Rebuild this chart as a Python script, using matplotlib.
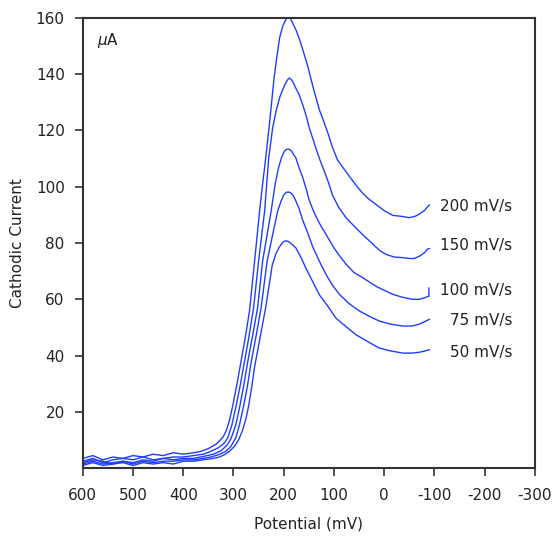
import matplotlib
matplotlib.use("Agg")
import matplotlib.pyplot as plt

plt.rcParams['font.family'] = ['DejaVu Sans']

# potential (mV) and cathodic current (uA)
pot_200 = [600, 580, 560, 540, 520, 500, 480, 460, 440, 420, 400, 380, 365, 350, 335, 321, 314, 308, 301,
           293, 285, 276, 268, 258, 248, 242, 236, 228, 219, 213, 208, 202, 197, 193, 190, 186, 182,
           175, 168, 162, 152, 142, 129, 120, 112, 103, 93, 81, 69, 56, 43, 30, 15, 0, -17, -33, -50,
           -62, -72, -80, -86, -90]
cur_200 = [3.5, 4.5, 3.0, 4.0, 3.5, 4.5, 4.0, 5.0, 4.5, 5.5, 5.0, 5.5, 6.0, 7.0, 8.5, 11, 13.5, 17, 22.6,
           30, 38, 47, 56, 73.6, 91.4, 101, 110, 123, 139, 147, 153, 157, 159, 160, 160, 159.5, 158,
           155.4, 152, 148.6, 142.7, 135.6, 127.3, 123, 119, 114, 109.5, 106.5, 103.6, 100.5, 97.7, 95.5,
           93.5, 91.5, 89.8, 89.5, 89, 89.5, 90.5, 91.5, 92.8, 93.5]

pot_150 = [600, 580, 560, 540, 520, 500, 480, 460, 440, 420, 400, 380, 360, 345, 330, 318, 311, 303, 295,
           286, 278, 269, 260, 250, 238, 230, 222, 215, 208, 202, 197, 193, 189, 185, 181, 176, 170, 162,
           155, 149, 142, 136, 128, 119, 110, 103, 90, 76, 60, 43, 25, 10, -3, -20, -37, -50, -60, -72,
           -80, -86, -90]
cur_150 = [2.5, 3.5, 2.0, 3.0, 3.5, 3.0, 4.0, 3.0, 3.5, 4.0, 4.0, 4.5, 5.0, 6.0, 7.3, 9.0, 11, 15.5, 22,
           30, 38, 47, 57, 73.6, 91.4, 110, 121, 127, 131.7, 134.5, 136.5, 137.8, 138.6, 138, 137, 135,
           133, 129, 125, 120.8, 117, 113.7, 109.5, 105.4, 101, 97, 92.5, 89, 86, 83, 80, 77.5, 76, 75,
           74.8, 74.5, 74.5, 75.5, 76.5, 77.8, 78]

pot_100 = [600, 580, 560, 540, 520, 500, 480, 460, 440, 420, 400, 380, 360, 340, 325, 313, 305, 296, 288,
           280, 272, 262, 252, 242, 233, 225, 217, 210, 204, 199, 194, 189, 184, 180, 176, 170, 162, 155,
           149, 140, 129, 119, 109, 99, 89, 76, 60, 43, 30, 15, 0, -17, -35, -56, -70, -80, -86, -89, -89]
cur_100 = [2.0, 3.0, 2.5, 1.5, 2.5, 2.0, 3.0, 2.5, 3.5, 3.0, 3.5, 3.5, 4.2, 5.0, 6.2, 8.2, 10.5, 15, 21.5,
           29, 37.5, 47, 57, 73.6, 83, 91.4, 101, 107, 110.5, 112.5, 113.3, 113.3, 112.5, 111.3, 110.3,
           107, 103.2, 99, 95, 91, 87, 84, 81, 78, 75.5, 72.5, 69.5, 67.7, 66.2, 64.5, 63.2, 61.8, 60.8,
           60, 60, 60.5, 61, 61, 64]

pot_75 = [600, 580, 560, 540, 520, 500, 480, 460, 440, 420, 400, 380, 360, 345, 330, 315, 305, 295,
          288, 280, 272, 265, 255, 245, 233, 222, 212, 205, 200, 195, 190, 186, 181, 176, 170, 162, 152,
          142, 129, 116, 103, 89, 70, 49, 30, 10, -12, -37, -55, -70, -80, -90]
cur_75 = [1.5, 2.5, 1.5, 2.0, 2.5, 1.5, 2.5, 2.0, 2.5, 2.5, 3.0, 3.0, 3.5, 4.0, 4.8, 6.0, 7.8, 11,
          15.5, 22, 29.5, 37.5, 47, 57, 73.6, 83, 91.4, 95, 97, 98, 98.1, 97.8, 96.8, 95, 92.5, 88, 83.5,
          78.5, 73.5, 68.9, 65, 61.7, 58.5, 55.8, 54, 52.3, 51.2, 50.5, 50.5, 51.2, 52, 52.9]

pot_50 = [600, 580, 560, 540, 520, 500, 480, 460, 440, 420, 400, 380, 360, 340, 328, 318, 308, 298,
          290, 283, 276, 270, 264, 258, 247, 236, 229, 223, 216, 209, 203, 198, 193, 188, 182, 176, 166,
          156, 143, 129, 112, 96, 76, 56, 33, 10, -12, -37, -55, -70, -80, -90]
cur_50 = [1.0, 2.0, 1.0, 1.5, 2.0, 1.0, 2.0, 1.5, 2.0, 1.5, 2.5, 2.5, 3.0, 3.5, 4.0, 4.8, 6.0, 7.8,
          10, 13, 17, 22, 28.5, 36, 46.5, 57, 65, 72, 76, 78.5, 80, 80.7, 80.7, 80.2, 79.3, 78.3, 75,
          71.1, 66.5, 61.6, 57.5, 53.3, 50.3, 47.4, 45, 42.7, 41.7, 40.9, 40.9, 41.2, 41.6, 42.1]

rate_labels = ['200 mV/s', '150 mV/s', '100 mV/s', '75 mV/s', '50 mV/s']
label_y = [93, 79, 63, 52.6, 41.2]

x_ticks = [600, 500, 400, 300, 200, 100, 0, -100, -200, -300]
y_ticks = [20, 40, 60, 80, 100, 120, 140, 160]

blue = '#1f3dff'
ink = '#222222'

fig = plt.figure(figsize=(5.52, 5.37), dpi=100)
ax = fig.add_axes([0.150, 0.128, 0.819, 0.839])

series = [(pot_200, cur_200), (pot_150, cur_150), (pot_100, cur_100),
          (pot_75, cur_75), (pot_50, cur_50)]
for pot, cur in series:
    ax.plot(pot, cur, color=blue, lw=1.0)

for txt, yv in zip(rate_labels, label_y):
    ax.text(-255, yv, txt, ha='right', va='center', fontsize=11, color=ink)

ax.text(572, 152, r'$\mu$A', ha='left', va='center', fontsize=11, color=ink)

ax.set_xlim(600, -300)
ax.set_ylim(0, 160)
ax.set_xticks(x_ticks)
ax.set_xticklabels([str(v) for v in x_ticks])
ax.set_yticks(y_ticks)
ax.set_yticklabels([str(v) for v in y_ticks])

for s in ax.spines.values():
    s.set_color('#333333')
    s.set_linewidth(1.5)
ax.tick_params(direction='out', length=6, width=1.2, colors='#333333',
               labelcolor=ink, labelsize=11)
ax.tick_params(axis='x', pad=8)
ax.tick_params(axis='y', pad=7)

ax.set_xlabel('Potential (mV)', fontsize=11, color=ink, labelpad=10)
ax.set_ylabel('Cathodic Current', fontsize=11, color=ink, labelpad=8)

fig.savefig('out.png', dpi=100)
